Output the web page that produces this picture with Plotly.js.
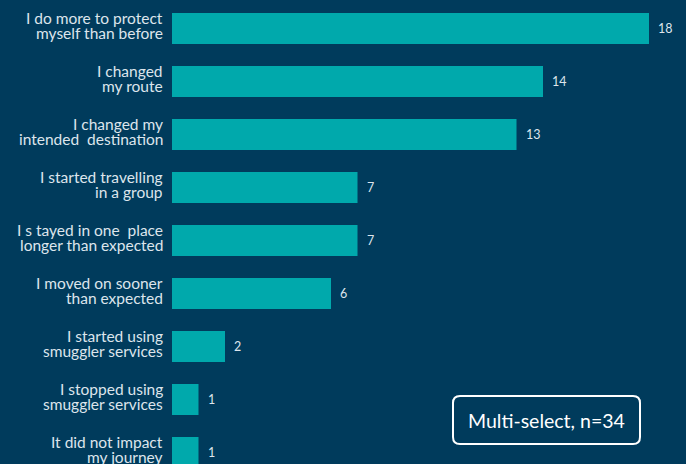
<!DOCTYPE html>
<html>
<head>
<meta charset="utf-8">
<script src="https://cdn.plot.ly/plotly-3.0.1.min.js"></script>
<style>html,body{margin:0;padding:0;background:#003B5C;}#chart{width:686px;height:464px;}</style>
</head>
<body>
<div id="chart"></div>
<script>
const categories = [
  "I do more to protect<br>myself than before",
  "I changed<br>my route",
  "I changed my<br>intended  destination",
  "I started travelling<br>in a group",
  "I s tayed in one  place<br>longer than expected",
  "I moved on sooner<br>than expected",
  "I started using<br>smuggler services",
  "I stopped using<br>smuggler services",
  "It did not impact<br>my journey"
];
const values = [18, 14, 13, 7, 7, 6, 2, 1, 1];
const noteText = "Multi-select, n=34";

const fam = "Lato, 'Noto Sans', sans-serif";
const textColor = "#dde5ec";

const annotations = [];
// category labels, one annotation per line, tight line spacing
categories.forEach((c, i) => {
  const lines = c.split("<br>");
  const shifts = [10.2, -4.6];
  lines.forEach((ln, j) => {
    annotations.push({
      x: 0, y: c, xref: "paper", yref: "y",
      text: ln.replace(/  /g, "&nbsp; "), showarrow: false, xanchor: "right", yanchor: "middle",
      xshift: -7, yshift: shifts[j],
      font: {family: fam, size: 15.5, color: textColor}
    });
  });
});
// value labels
values.forEach((v, i) => {
  annotations.push({
    x: v, y: categories[i], xref: "x", yref: "y",
    text: String(v), showarrow: false, xanchor: "left", xshift: 7,
    font: {family: fam, size: 12.5, color: textColor}
  });
});
annotations.push({
  x: 0.7286, y: 0.0948, xref: "paper", yref: "paper",
  text: noteText, showarrow: false, xanchor: "center", yanchor: "middle",
  font: {family: fam, size: 19.5, color: "#ffffff"}
});

const r = 7, hw = 93.5, hh = 24;
const path = `M ${-hw+r} ${-hh} L ${hw-r} ${-hh} Q ${hw} ${-hh} ${hw} ${-hh+r} L ${hw} ${hh-r} Q ${hw} ${hh} ${hw-r} ${hh} L ${-hw+r} ${hh} Q ${-hw} ${hh} ${-hw} ${hh-r} L ${-hw} ${-hh+r} Q ${-hw} ${-hh} ${-hw+r} ${-hh} Z`;

const data = [{
  type: "bar", orientation: "h",
  x: values, y: categories,
  marker: {color: "#00A9AC"},
  width: 0.585,
  hoverinfo: "none"
}];

const layout = {
  width: 686, height: 464,
  margin: {l: 172, r: 0, t: 0, b: 0, pad: 0},
  paper_bgcolor: "#003B5C", plot_bgcolor: "#003B5C",
  showlegend: false,
  xaxis: {range: [0, 514/26.5], visible: false, fixedrange: true},
  yaxis: {
    type: "category", range: [8.217, -0.538],
    showgrid: false, zeroline: false, showline: false,
    showticklabels: false, ticks: "", fixedrange: true
  },
  annotations: annotations,
  shapes: [{
    type: "path", xref: "paper", yref: "paper",
    xsizemode: "pixel", ysizemode: "pixel",
    xanchor: 0.7286, yanchor: 0.0948,
    path: path,
    line: {color: "#ffffff", width: 2}, fillcolor: "rgba(0,0,0,0)"
  }]
};

Plotly.newPlot("chart", data, layout, {displayModeBar: false, staticPlot: true});
</script>
</body>
</html>
